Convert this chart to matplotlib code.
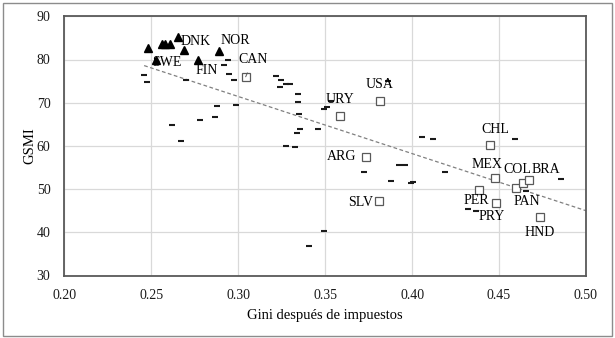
import matplotlib.pyplot as plt
from matplotlib.patches import Rectangle

# Nordic countries (triangles)
nordic_gini = [0.2483, 0.256, 0.258, 0.261, 0.2652, 0.269, 0.253, 0.277, 0.2889]
nordic_gsmi = [82.6, 83.5, 83.5, 83.5, 85.1, 82.2, 79.9, 79.9, 82.0]
nordic_codes = ['', '', '', '', 'DNK', '', 'SWE', 'FIN', 'NOR']

# Americas (squares)
amer_codes = ['CAN', 'USA', 'URY', 'ARG', 'SLV', 'CHL', 'MEX', 'PER', 'PRY',
              'PAN', 'COL', 'BRA', 'HND']
amer_gini = [0.3043, 0.3815, 0.3588, 0.3734, 0.3807, 0.4447, 0.4477, 0.4385,
             0.4483, 0.4600, 0.4638, 0.4672, 0.4736]
amer_gsmi = [76.0, 70.4, 66.9, 57.4, 47.3, 60.2, 52.5, 49.8,
             46.7, 50.2, 51.3, 52.0, 43.5]

# other countries (dashes)
other_gini = [0.2459, 0.2477, 0.2699, 0.2617, 0.2673, 0.2780, 0.2865, 0.2880,
              0.2917, 0.2944, 0.2949, 0.2978, 0.2987, 0.3218, 0.3247, 0.3238,
              0.3276, 0.3300, 0.3276, 0.3326, 0.3344, 0.3344, 0.3349, 0.3337,
              0.3358, 0.3457, 0.3493, 0.3509, 0.3536, 0.3495, 0.3407, 0.3726,
              0.3877, 0.3925, 0.3958, 0.3992, 0.4006, 0.4058, 0.4119, 0.4187,
              0.4322, 0.4367, 0.4593, 0.4855, 0.3859, 0.4654]
other_gsmi = [76.5, 74.8, 75.3, 64.8, 61.1, 65.9, 66.6, 69.2,
              78.7, 79.8, 76.7, 75.2, 69.5, 76.2, 75.3, 73.6,
              74.4, 74.3, 60.0, 59.7, 72.0, 70.1, 67.5, 63.1,
              63.9, 64.0, 68.5, 69.0, 70.4, 40.3, 36.8, 54.0,
              51.8, 55.6, 55.5, 51.4, 51.7, 62.1, 61.6, 53.9,
              45.5, 45.0, 61.7, 52.4, 75.0, 49.5]

# linear trend
trend_x = [0.2459, 0.50]
trend_slope = -132.2
trend_intercept = 111.1

x_ticks = [0.20, 0.25, 0.30, 0.35, 0.40, 0.45, 0.50]
y_ticks = [30, 40, 50, 60, 70, 80, 90]

# label offsets in pixels (dx, dy, ha)
offsets = {
    'DNK': (18, -4, 'center'), 'NOR': (16, 10.5, 'center'),
    'SWE': (10.5, -3, 'center'), 'FIN': (8.5, -10.5, 'center'),
    'CAN': (7.5, 17, 'center'), 'USA': (0, 16.3, 'center'),
    'URY': (0, 17, 'center'), 'ARG': (-24, 0.7, 'center'),
    'SLV': (-18, -1.3, 'center'), 'CHL': (5, 15.3, 'center'),
    'MEX': (-8, 14.3, 'center'), 'PER': (-3, -10.8, 'center'),
    'PRY': (-4.4, -13, 'center'), 'PAN': (10, -13, 'center'),
    'COL': (8, 14.4, 'right'), 'BRA': (2.5, 11.4, 'left'),
    'HND': (0, -15, 'center'),
}

plt.rcParams['font.family'] = ['Liberation Serif', 'DejaVu Serif']

fig = plt.figure(figsize=(6.15, 3.38), dpi=100)
ax = fig.add_axes([64.3 / 615, 62.5 / 338, (586 - 64.3) / 615, (275.5 - 16.3) / 338])

fig.patches.append(Rectangle((2.7 / 615, 2.5 / 338), 609 / 615, 333 / 338,
                             transform=fig.transFigure, fill=False,
                             edgecolor='#8c8c8c', lw=1.0))

ax.set_xlim(0.20, 0.50)
ax.set_ylim(30, 90)
ax.set_xticks(x_ticks)
ax.set_yticks(y_ticks)
ax.set_xticklabels([f'{t:.2f}' for t in x_ticks])
ax.grid(True, color='#d9d9d9', lw=0.9)
ax.set_axisbelow(True)
ax.tick_params(length=0, labelsize=10, colors='#1a1a1a')
ax.tick_params(axis='x', pad=10)
ax.tick_params(axis='y', pad=10)
for s in ax.spines.values():
    s.set_color('#595959')
    s.set_linewidth(1.3)

tx = [trend_x[0], trend_x[1]]
ty = [trend_intercept + trend_slope * v for v in tx]
ax.plot(tx, ty, ls=(0, (3, 2)), color='#808080', lw=0.9, zorder=2)

ax.plot(other_gini, other_gsmi, ls='none', marker='_', ms=4.5, mew=1.5,
        color='#1a1a1a', zorder=3)
ax.plot(amer_gini, amer_gsmi, ls='none', marker='s', ms=6, mew=0.9,
        mfc='white', mec='#595959', zorder=4)
ax.plot(nordic_gini, nordic_gsmi, ls='none', marker='^', ms=5.5,
        color='black', zorder=5)

for code, x, y in list(zip(nordic_codes, nordic_gini, nordic_gsmi)) + \
        list(zip(amer_codes, amer_gini, amer_gsmi)):
    if not code:
        continue
    dx, dy, ha = offsets[code]
    arrow = None
    if code == 'CAN':
        arrow = dict(arrowstyle='-', color='#595959', lw=0.7, shrinkA=3, shrinkB=0)
    ax.annotate(code, (x, y), xytext=(dx, dy), textcoords='offset pixels',
                ha=ha, va='center', fontsize=10, zorder=6, arrowprops=arrow)

ax.set_xlabel('Gini después de impuestos', fontsize=10.5, labelpad=5)
ax.set_ylabel('GSMI', fontsize=10.5, labelpad=0)

fig.savefig('out.png', dpi=100)
